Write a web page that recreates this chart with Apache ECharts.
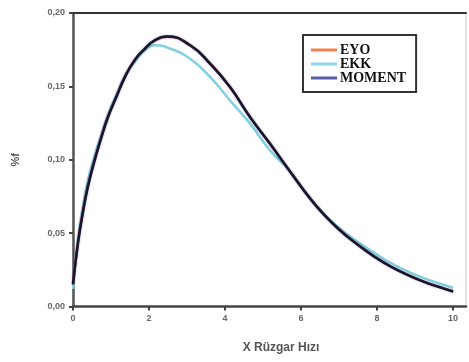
<!DOCTYPE html>
<html>
<head>
<meta charset="utf-8">
<script src="https://cdn.jsdelivr.net/npm/echarts@6/dist/echarts.min.js"></script>
<style>
  html, body { margin: 0; padding: 0; background: #fff; }
  #chart { width: 469px; height: 362px; }
</style>
</head>
<body>
<div id="chart"></div>
<script>
// wind speed (x) and frequency values
const windSpeed = [0, 0.13, 0.26, 0.39, 0.57, 0.75, 0.92, 1.14, 1.36, 1.62, 1.89, 2.15, 2.48, 3.08, 3.61, 4.13, 4.66, 5.18, 5.71, 6.24, 6.59, 7.0, 7.47, 7.9, 8.34, 8.8, 9.22, 9.6, 10]
const eyo = [0.016, 0.044, 0.065, 0.082, 0.100, 0.116, 0.1295, 0.143, 0.1565, 0.168, 0.1758, 0.1812, 0.1838, 0.1782, 0.1656, 0.1497, 0.1292, 0.111, 0.0922, 0.0737, 0.0631, 0.0526, 0.0426, 0.0346, 0.0276, 0.0216, 0.0171, 0.0136, 0.0103]
const ekk = [0.012, 0.046, 0.068, 0.086, 0.103, 0.118, 0.131, 0.1445, 0.157, 0.1665, 0.1745, 0.178, 0.1765, 0.1688, 0.1563, 0.1405, 0.1246, 0.1065, 0.092, 0.0738, 0.0635, 0.0535, 0.0445, 0.037, 0.030, 0.024, 0.0195, 0.016, 0.0128]
const moment = [0.015, 0.043, 0.064, 0.0815, 0.0997, 0.1155, 0.129, 0.1427, 0.156, 0.1677, 0.1756, 0.1813, 0.184, 0.178, 0.1654, 0.1495, 0.129, 0.111, 0.092, 0.0735, 0.063, 0.0525, 0.0425, 0.0345, 0.0275, 0.0215, 0.017, 0.0135, 0.0102]

const xTicks = [0, 2, 4, 6, 8, 10]
const yTicks = [0, 0.05, 0.10, 0.15, 0.20]

const pair = (ys) => windSpeed.map((x, i) => [x, ys[i]])

const chart = echarts.init(document.getElementById('chart'))

const tickLabel = {
  fontFamily: 'Liberation Sans',
  fontWeight: 'bold',
  fontSize: 9,
  color: '#666'
}

chart.setOption({
  animation: false,
  grid: {
    left: 73,
    right: 3,
    top: 13,
    bottom: 55.5,
    show: true,
    borderColor: '#c8c8c8',
    borderWidth: 1
  },
  legend: {
    orient: 'vertical',
    left: 303,
    top: 35,
    padding: [8, 10, 7, 8],
    itemWidth: 26,
    itemHeight: 3,
    itemGap: 0,
    itemStyle: { borderWidth: 0 },
    backgroundColor: '#fff',
    borderColor: '#333',
    borderWidth: 2,
    textStyle: {
      fontFamily: 'Liberation Serif',
      fontWeight: 'bold',
      fontSize: 14,
      lineHeight: 13.5,
      color: '#111',
      padding: [0, 0, 0, -2]
    },
    data: [
      { name: 'EYO', icon: 'rect', itemStyle: { color: '#f0804f' } },
      { name: 'EKK', icon: 'rect', itemStyle: { color: '#8ad8e8' } },
      { name: 'MOMENT', icon: 'rect', itemStyle: { color: '#5a5ea8' } }
    ]
  },
  xAxis: [{
    type: 'value',
    min: 0,
    max: 10.34,
    name: 'X Rüzgar Hızı',
    nameLocation: 'middle',
    nameGap: 35,
    nameTextStyle: {
      fontFamily: 'Liberation Sans',
      fontWeight: 'bold',
      fontSize: 12,
      color: '#555',
      padding: [0, 0, 0, 23]
    },
    splitLine: { show: false },
    axisLine: { lineStyle: { color: '#444', width: 2.5 } },
    axisTick: { customValues: xTicks, length: 4, lineStyle: { color: '#444', width: 2 } },
    axisLabel: Object.assign({ customValues: xTicks, margin: 8 }, tickLabel)
  }, {
    type: 'value',
    position: 'top',
    min: 0,
    max: 10.34,
    splitLine: { show: false },
    axisLine: { lineStyle: { color: '#333', width: 2 } },
    axisTick: { show: false },
    axisLabel: { show: false }
  }],
  yAxis: {
    type: 'value',
    min: 0,
    max: 0.2,
    interval: 0.05,
    name: '%f',
    nameLocation: 'middle',
    nameGap: 52,
    nameTextStyle: {
      fontFamily: 'Liberation Sans',
      fontWeight: 'bold',
      fontSize: 11,
      color: '#555'
    },
    splitLine: { show: false },
    axisLine: { lineStyle: { color: '#555', width: 2.5 } },
    axisTick: { customValues: yTicks, length: 4, lineStyle: { color: '#444', width: 2 } },
    axisLabel: Object.assign({
      customValues: yTicks,
      margin: 8,
      formatter: (v) => v.toFixed(2).replace('.', ',')
    }, tickLabel)
  },
  series: [
    {
      name: 'EYO',
      type: 'line',
      smooth: true,
      symbol: 'none',
      z: 3,
      lineStyle: { color: '#e8603a', width: 2.5 },
      itemStyle: { color: '#f0804f' },
      data: pair(eyo)
    },
    {
      name: 'EKK',
      type: 'line',
      smooth: true,
      symbol: 'none',
      z: 2,
      lineStyle: { color: '#7fd0e0', width: 2.5 },
      itemStyle: { color: '#8ad8e8' },
      data: pair(ekk)
    },
    {
      name: 'MOMENT',
      type: 'line',
      smooth: true,
      symbol: 'none',
      z: 4,
      lineStyle: { color: '#16162a', width: 2.5, shadowColor: 'rgba(60,60,170,0.6)', shadowBlur: 2 },
      itemStyle: { color: '#5a5ea8' },
      data: pair(moment)
    }
  ]
})
</script>
</body>
</html>
